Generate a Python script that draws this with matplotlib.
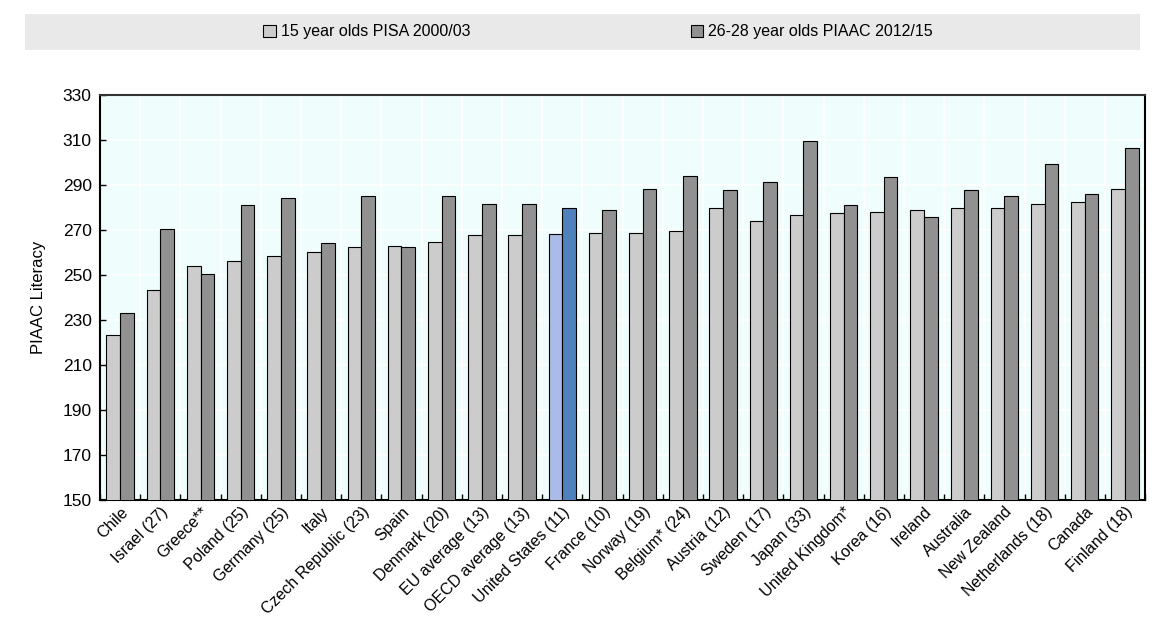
import numpy as np
import matplotlib.pyplot as plt
from matplotlib.patches import Rectangle

plt.rcParams['font.family'] = ['Liberation Sans', 'DejaVu Sans']

countries = ['Chile', 'Israel (27)', 'Greece**', 'Poland (25)', 'Germany (25)', 'Italy',
             'Czech Republic (23)', 'Spain', 'Denmark (20)', 'EU average (13)',
             'OECD average (13)', 'United States (11)', 'France (10)', 'Norway (19)',
             'Belgium* (24)', 'Austria (12)', 'Sweden (17)', 'Japan (33)',
             'United Kingdom*', 'Korea (16)', 'Ireland', 'Australia', 'New Zealand',
             'Netherlands (18)', 'Canada', 'Finland (18)']
pisa = [223.2, 243.5, 253.9, 256.4, 258.7, 260.4, 262.3, 262.9, 264.8, 267.9,
        267.9, 268.4, 268.7, 268.9, 269.8, 279.9, 274.0, 276.8, 277.4, 278.1,
        279.0, 279.9, 279.9, 281.6, 282.6, 288.5]
piaac = [233.0, 270.6, 250.7, 281.0, 284.1, 264.5, 285.0, 262.3, 285.0, 281.4,
         281.4, 279.8, 279.0, 288.1, 294.0, 287.8, 291.2, 309.6, 281.1, 293.7,
         275.8, 287.8, 285.0, 299.2, 285.9, 306.6]
labels = ['15 year olds PISA 2000/03', '26-28 year olds PIAAC 2012/15']
highlight = 'United States (11)'

fig = plt.figure(figsize=(11.59, 6.22), dpi=100)
ax = fig.add_axes([0.0863, 0.196, 0.9017, 0.651])

x = np.arange(len(countries))
w = 0.34
c1 = ['#a9bbe6' if c == highlight else '#cccccc' for c in countries]
c2 = ['#4f81bd' if c == highlight else '#919191' for c in countries]
b1 = ax.bar(x - w/2, pisa, w, color=c1, edgecolor='black', linewidth=0.8,
            label=labels[0], zorder=3)
b2 = ax.bar(x + w/2, piaac, w, color=c2, edgecolor='black', linewidth=0.8,
            label=labels[1], zorder=3)

ax.set_ylim(150, 330)
ax.set_xlim(-0.5, len(countries) - 0.5)
ax.set_yticks(np.arange(150, 331, 20))
ax.set_facecolor('#f0fdfd')

ax.set_xticks(x)
ax.set_xticklabels(countries, rotation=45, ha='right', rotation_mode='anchor', fontsize=11.5)
ax.tick_params(axis='x', length=0, pad=3)
ax.set_xticks(np.arange(-0.5, len(countries), 1), minor=True)
ax.tick_params(axis='x', which='minor', direction='in', length=4, width=1)
ax.tick_params(axis='y', direction='in', length=4, width=1, labelsize=12.5, pad=6)
ax.grid(True, axis='y', color='white', linewidth=1.2, zorder=0)
ax.grid(True, axis='x', which='minor', color='white', linewidth=1.2, zorder=0)
ax.set_axisbelow(True)

for s in ['left', 'bottom', 'right']:
    ax.spines[s].set_linewidth(1.5)
    ax.spines[s].set_color('black')
ax.spines['top'].set_linewidth(1.5)
ax.spines['top'].set_color('#333333')

ax.set_ylabel('PIAAC Literacy', fontsize=12, labelpad=12)

fig.patches.append(Rectangle((0.022, 0.92), 0.962, 0.058, transform=fig.transFigure,
                             facecolor='#e9e9e9', edgecolor='none', zorder=0))
fig.legend(handles=[b1[0], b2[0]], labels=labels, loc='center',
           bbox_to_anchor=(0.516, 0.949), ncol=2, frameon=False,
           handlelength=0.8, handleheight=0.8, handletextpad=0.3,
           columnspacing=13.8, prop={'size': 11.5})
leg = fig.legends[0]
leg.legend_handles[0].set_facecolor('#cccccc')
leg.legend_handles[1].set_facecolor('#919191')

fig.savefig('out.png', dpi=100)
